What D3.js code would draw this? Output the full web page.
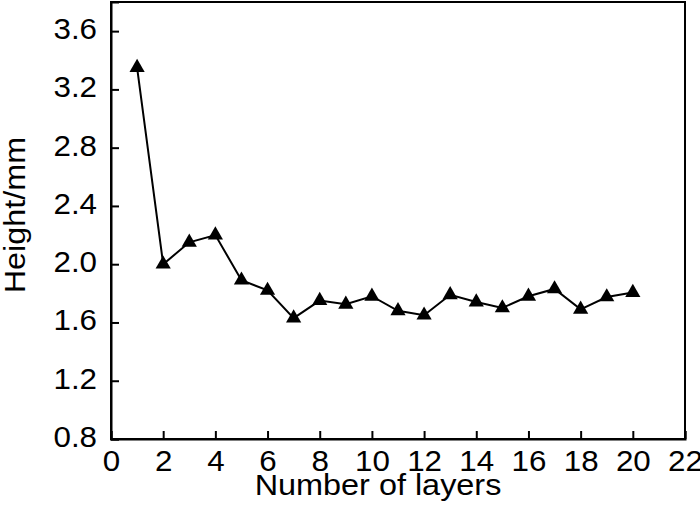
<!DOCTYPE html>
<html>
<head>
<meta charset="utf-8">
<script src="https://cdn.jsdelivr.net/npm/d3@7.9.0/dist/d3.min.js"></script>
<style>
  body { margin: 0; background: #fff; }
  svg text { font-family: "Liberation Sans", Arial, sans-serif; fill: #000; }
</style>
</head>
<body>
<div id="chart"></div>
<script>
// data
const layers = [1, 2, 3, 4, 5, 6, 7, 8, 9, 10, 11, 12, 13, 14, 15, 16, 17, 18, 19, 20];
const heights = [3.35, 2.0, 2.15, 2.2, 1.89, 1.82, 1.63, 1.75, 1.725, 1.78, 1.68,
  1.65, 1.79, 1.74, 1.70, 1.78, 1.83, 1.69, 1.775, 1.805];
const xTicks = [0, 2, 4, 6, 8, 10, 12, 14, 16, 18, 20, 22];
const yTicks = [0.8, 1.2, 1.6, 2.0, 2.4, 2.8, 3.2, 3.6];

const width = 700;
const height = 519;
const margin = { top: 2, right: 15, bottom: 80, left: 111 };
const stretch = 1.08; // glyphs in the figure are a bit wider than Arial

const usableArea = {
  top: margin.top,
  right: width - margin.right,
  bottom: height - margin.bottom,
  left: margin.left,
};

const svg = d3
  .select('#chart')
  .append('svg')
  .attr('width', width)
  .attr('height', height);

const xScale = d3.scaleLinear().domain([0, 22]).range([usableArea.left, usableArea.right]);
const yScale = d3.scaleLinear().domain([0.8, 3.8]).range([usableArea.bottom, usableArea.top]);

// frame
svg
  .append('rect')
  .attr('x', usableArea.left)
  .attr('y', usableArea.top)
  .attr('width', usableArea.right - usableArea.left)
  .attr('height', usableArea.bottom - usableArea.top)
  .attr('fill', 'none')
  .attr('stroke', '#000')
  .attr('stroke-width', 2);

// axes with inward ticks
const xAxis = d3.axisBottom(xScale).tickValues(xTicks).tickSize(-8).tickPadding(0).tickFormat(d3.format('d'));
const yAxis = d3.axisLeft(yScale).tickValues(yTicks).tickSize(-8).tickPadding(0).tickFormat(d3.format('.1f'));

const gx = svg
  .append('g')
  .attr('transform', `translate(0, ${usableArea.bottom})`)
  .call(xAxis);

const gy = svg
  .append('g')
  .attr('transform', `translate(${usableArea.left}, 0)`)
  .call(yAxis);

[gx, gy].forEach((g) => {
  g.select('.domain').attr('stroke', '#000').attr('stroke-width', 2);
  g.selectAll('.tick line').attr('stroke', '#000').attr('stroke-width', 2);
  g.selectAll('.tick text')
    .style('font-family', '"Liberation Sans", Arial, sans-serif')
    .attr('font-size', 29)
    .attr('fill', '#000');
});

gx.selectAll('.tick text')
  .attr('y', 32)
  .attr('dy', 0)
  .attr('transform', `scale(${stretch},1)`);

gy.selectAll('.tick text')
  .attr('x', -14 / stretch)
  .attr('dy', 7.5)
  .attr('transform', `scale(${stretch},1)`);

// axis titles
svg
  .append('g')
  .attr('transform', `translate(378, 495)`)
  .append('text')
  .attr('text-anchor', 'middle')
  .attr('font-size', 30)
  .attr('transform', `scale(${stretch},1)`)
  .text('Number of layers');

svg
  .append('g')
  .attr('transform', `translate(25, 215) rotate(-90)`)
  .append('text')
  .attr('text-anchor', 'middle')
  .attr('font-size', 30)
  .attr('transform', `scale(${stretch},1)`)
  .text('Height/mm');

// line + triangle markers
const points = layers.map((l, i) => ({ layer: l, height: heights[i] }));

const line = d3
  .line()
  .x((d) => xScale(d.layer))
  .y((d) => yScale(d.height));

svg
  .append('path')
  .datum(points)
  .attr('d', line)
  .attr('fill', 'none')
  .attr('stroke', '#000')
  .attr('stroke-width', 2);

const triangle = d3.symbol().type(d3.symbolTriangle).size(100);

svg
  .append('g')
  .selectAll('path')
  .data(points)
  .join('path')
  .attr('d', triangle)
  .attr('transform', (d) => `translate(${xScale(d.layer)}, ${yScale(d.height)})`)
  .attr('fill', '#000');
</script>
</body>
</html>
